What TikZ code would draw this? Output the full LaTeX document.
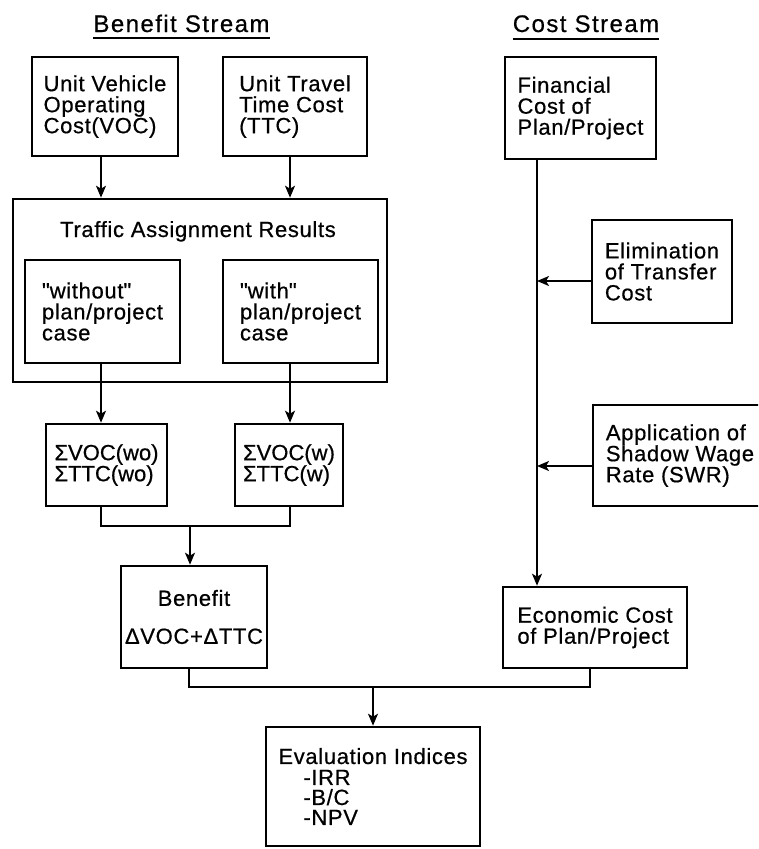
\documentclass[tikz,border=0pt]{standalone}
\usepackage{fontspec}
\setmainfont{Liberation Sans}[LetterSpace=3,FakeBold=0.6]
\newfontfamily\titlefont{Liberation Sans}[LetterSpace=6,FakeBold=0.6]
\newfontfamily\tightfont{Liberation Sans}[LetterSpace=0,FakeBold=0.6]
\usetikzlibrary{arrows.meta,calc}
\begin{document}
\begin{tikzpicture}[x=1pt,y=-1pt,
  box/.style={draw, line width=2.6pt, align=left, inner sep=0pt,
    font=\fontsize{22}{21}\selectfont},
  lbl/.style={inner sep=0pt, align=left, font=\fontsize{22}{21}\selectfont},
  conn/.style={line width=1.6pt},
  arr/.style={conn, -{Stealth[length=12pt,width=10pt,inset=3pt]}},
  ttl/.style={inner sep=0pt, font=\titlefont\fontsize{24}{26}\selectfont},
]
\path[use as bounding box] (0,0) rectangle (758,849);
\clip (0,0) rectangle (758,849);

% titles
\node[ttl, anchor=base] (bst) at (181.5,32) {Benefit Stream};
\draw[line width=1.4pt] ([yshift=-6pt]bst.base west) -- ([yshift=-6pt]bst.base east);
\node[ttl, anchor=base] (cst) at (586,32) {Cost Stream};
\draw[line width=1.4pt] ([yshift=-7pt]cst.base west) -- ([yshift=-7pt]cst.base east);

% benefit stream
\node[box, minimum width=146pt, minimum height=99pt] (voc) at (105,106.5)
  {Unit Vehicle\\Operating\\Cost(VOC)};
\node[box, minimum width=144pt, minimum height=99pt] (ttc) at (295,106.5)
  {Unit Travel\\Time Cost\\(TTC)};
\node[box, minimum width=374pt, minimum height=183pt] (tar) at (200,290.5) {};
\node[lbl, anchor=base] (tart) at (198,237) {Traffic Assignment Results};
\node[box, minimum width=155pt, minimum height=103pt] (wo) at (102.5,311.5)
  {\textquotedbl without\textquotedbl\\plan/project\\case};
\node[box, minimum width=155pt, minimum height=103pt] (w) at (300.5,311.5)
  {\textquotedbl with\textquotedbl\\plan/project\\case};
\node[box, font=\tightfont\fontsize{22}{21}\selectfont, minimum width=121pt, minimum height=82pt] (swo) at (106.5,465)
  {ΣVOC(wo)\\ΣTTC(wo)};
\node[box, font=\tightfont\fontsize{22}{21}\selectfont, minimum width=108pt, minimum height=82pt] (sw) at (289,465)
  {ΣVOC(w)\\ΣTTC(w)};
\node[box, align=center, minimum width=146pt, minimum height=102pt] (ben) at (194,617)
  {Benefit\\[17pt]ΔVOC+ΔTTC};

% cost stream
\node[box, minimum width=151pt, minimum height=102pt] (fin) at (580.5,108)
  {Financial\\Cost of\\Plan/Project};
\node[box, minimum width=140pt, minimum height=103pt] (elim) at (662,271.5)
  {Elimination\\of Transfer\\Cost};
\node[box, minimum width=174pt, minimum height=101pt] (swr) at (680,455.5)
  {Application of\\Shadow Wage\\Rate (SWR)};
\node[box, minimum width=184pt, minimum height=81pt] (eco) at (595,627.5)
  {Economic Cost\\of Plan/Project};

% evaluation
\node[box, minimum width=214pt, minimum height=119pt] (eval) at (373,786.5)
  {Evaluation Indices\\\hspace*{25pt}-IRR\\[-1pt]\hspace*{25pt}-B/C\\[-1pt]\hspace*{25pt}-NPV};

% connector columns
\coordinate (colA) at (101,0);
\coordinate (colB) at (290,0);
\coordinate (colC) at (537,0);
\coordinate (colD) at (189,0);
\coordinate (colE) at (590,0);
\coordinate (j1) at (190,526);
\coordinate (j2) at (373,687);
\coordinate (e1) at ([yshift=-9.5pt]elim.west);
\coordinate (e2) at ([yshift=-10.5pt]swr.west);

\draw[arr] (voc.south -| colA) -- (tar.north -| colA);
\draw[arr] (ttc.south -| colB) -- (tar.north -| colB);
\draw[arr] (wo.south -| colA) -- (swo.north -| colA);
\draw[arr] (w.south -| colB) -- (sw.north -| colB);
\draw[conn] (swo.south -| colA) |- (j1) -| (sw.south -| colB);
\draw[arr] (j1) -- (ben.north -| j1);
\draw[arr] (fin.south -| colC) -- (eco.north -| colC);
\draw[arr] (e1) -- (e1 -| colC);
\draw[arr] (e2) -- (e2 -| colC);
\draw[conn] (ben.south -| colD) |- (j2) -| (eco.south -| colE);
\draw[arr] (j2) -- (eval.north);
\end{tikzpicture}
\end{document}
